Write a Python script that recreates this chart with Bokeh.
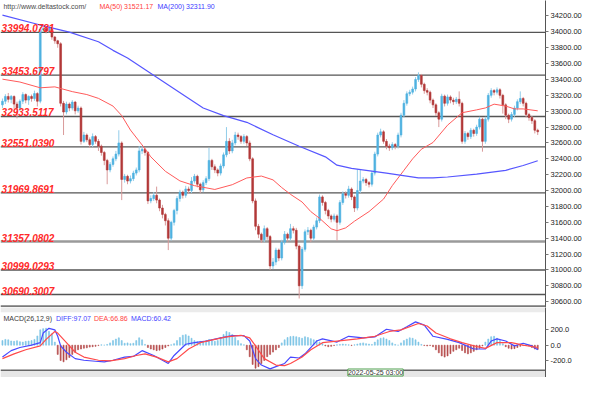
from bokeh.plotting import figure
from bokeh.models import (Range1d, FixedTicker, PrintfTickFormatter, Span, Label,
                          BoxAnnotation, ColumnDataSource)
from bokeh.layouts import column
from bokeh.embed import file_html
from bokeh.resources import INLINE

# ---------------- data ----------------
open_ = [
    33080, 33126, 33186, 33150, 33186, 33090, 33040, 33126, 33210, 33140,
    33186, 33160, 33222, 33126, 34030, 34040, 34010, 34050, 33935, 33887,
    33850, 33100, 32990, 33090, 33040, 33115, 33005, 33040, 32620, 32700,
    32640, 32580, 32680, 32620, 32560, 32480, 32380, 32260, 32330, 32400,
    32460, 32600, 32140, 32180, 32120, 32150, 32220, 32260, 32500, 32520,
    32480, 31870, 31900, 31940, 31880, 31780, 31700, 31620, 31400, 31600,
    31750, 31900, 31980, 31940, 32020, 32000, 32120, 32180, 32080, 32010,
    32100, 32150, 32380, 32300, 32260, 32220, 32310, 32450, 32620, 32500,
    32600, 32700, 32680, 32620, 32680, 32600, 32400, 31870, 31550, 31450,
    31380, 31520, 31420, 31050, 31100, 31250, 31150, 31350, 31450, 31400,
    31520, 31500, 31300, 30800, 31260, 31480, 31500, 31400, 31540, 31620,
    31920, 31850, 31750, 31680, 31640, 31680, 31600, 31850, 31960, 31940,
    32020, 31920, 31780, 32000, 32120, 32140, 32100, 32080, 32220, 32460,
    32700, 32740, 32620, 32560, 32540, 32580, 32560, 32700, 32950, 33100,
    33220, 33240, 33280, 33400, 33450, 33340, 33260, 33240, 33140, 33080,
    32980, 32900, 33190, 33100, 33180, 33140, 33120, 33150, 33100, 32620,
    32720, 32680, 32760, 32720, 32800, 32900, 32620, 32900, 33200, 33260,
    33240, 33270, 33200, 33080, 32950, 32900, 32960, 33040, 33120, 33160,
    33100, 32960, 32920, 32880, 32760,
]
high = [
    33160, 33215, 33230, 33205, 33200, 33120, 33150, 33240, 33225, 33200,
    33210, 33260, 33240, 34060, 34070, 34060, 34090, 34060, 33950, 33900,
    33870, 33130, 33120, 33110, 33140, 33130, 33070, 33060, 32740, 32720,
    32670, 32720, 32700, 32650, 32580, 32500, 32400, 32360, 32430, 32500,
    32760, 32620, 32210, 32200, 32190, 32250, 32290, 32560, 32560, 32540,
    32500, 31940, 31980, 32050, 31900, 31820, 31720, 31650, 31620, 31770,
    31930, 32010, 32000, 32060, 32050, 32170, 32210, 32200, 32100, 32130,
    32180, 32540, 32400, 32330, 32280, 32340, 32480, 32800, 32660, 32640,
    32740, 32730, 32700, 32710, 32700, 32630, 32420, 31900, 31580, 31470,
    31560, 31540, 31440, 31150, 31280, 31270, 31380, 31490, 31470, 31580,
    31550, 31530, 31320, 31290, 31510, 31540, 31520, 31570, 31660, 31950,
    31940, 31870, 31770, 31700, 31710, 31700, 31880, 31990, 31990, 32060,
    32040, 31940, 32270, 32260, 32170, 32160, 32120, 32250, 32490, 32730,
    32780, 32760, 32650, 32590, 32610, 32600, 32730, 32980, 33140, 33250,
    33270, 33310, 33430, 33490, 33470, 33360, 33290, 33260, 33160, 33100,
    33000, 33220, 33210, 33210, 33200, 33170, 33180, 33250, 33120, 32750,
    32740, 32790, 32780, 32830, 32930, 32920, 32930, 33230, 33290, 33280,
    33300, 33290, 33220, 33100, 32970, 32990, 33070, 33150, 33250, 33180,
    33120, 32980, 32940, 32900, 32780,
]
low = [
    33040, 33090, 33110, 33100, 33030, 32910, 33000, 33090, 33100, 33080,
    33120, 33130, 33060, 33100, 34000, 33980, 33990, 33900, 33850, 33800,
    33060, 32700, 32960, 33000, 33010, 32960, 32980, 32580, 32600, 32610,
    32540, 32550, 32590, 32500, 32440, 32320, 32080, 32230, 32300, 32370,
    32430, 31880, 32100, 32080, 32090, 32120, 32190, 32230, 32460, 32440,
    31830, 31840, 31870, 31840, 31740, 31650, 31560, 31250, 31370, 31560,
    31700, 31860, 31900, 31910, 31960, 31970, 32090, 32040, 31970, 31980,
    32070, 32120, 32260, 32220, 32180, 32190, 32280, 32420, 32460, 32470,
    32570, 32640, 32590, 32590, 32560, 32370, 31840, 31500, 31400, 31340,
    31350, 31380, 31000, 31010, 31060, 31110, 31120, 31320, 31360, 31370,
    31460, 31260, 30640, 30760, 31230, 31440, 31350, 31370, 31510, 31590,
    31810, 31700, 31640, 31600, 31610, 31370, 31570, 31820, 31900, 31910,
    31880, 31730, 31750, 31970, 32090, 32060, 32040, 32050, 32190, 32430,
    32670, 32590, 32520, 32500, 32510, 32520, 32530, 32670, 32920, 33070,
    33190, 33210, 33250, 33370, 33300, 33220, 33200, 33100, 33040, 32940,
    32800, 32870, 33060, 33070, 33100, 33080, 33090, 33060, 32590, 32590,
    32640, 32650, 32680, 32690, 32770, 32490, 32590, 32870, 33170, 33200,
    33210, 33160, 32970, 32900, 32850, 32870, 32930, 33010, 33090, 33060,
    32920, 32880, 32840, 32720, 32700,
]
close = [
    33126, 33186, 33150, 33186, 33090, 33040, 33126, 33210, 33140, 33186,
    33160, 33222, 33126, 34030, 34040, 34010, 34050, 33935, 33887, 33850,
    33100, 32990, 33090, 33040, 33115, 33005, 33040, 32620, 32700, 32640,
    32580, 32680, 32620, 32560, 32480, 32380, 32260, 32330, 32400, 32460,
    32600, 32140, 32180, 32120, 32150, 32220, 32260, 32500, 32520, 32480,
    31870, 31900, 31940, 31880, 31780, 31700, 31620, 31400, 31600, 31750,
    31900, 31980, 31940, 32020, 32000, 32120, 32180, 32080, 32010, 32100,
    32150, 32380, 32300, 32260, 32220, 32310, 32450, 32620, 32500, 32600,
    32700, 32680, 32620, 32680, 32600, 32400, 31870, 31550, 31450, 31380,
    31520, 31420, 31050, 31100, 31250, 31150, 31350, 31450, 31400, 31520,
    31500, 31300, 30800, 31260, 31480, 31500, 31400, 31540, 31620, 31920,
    31850, 31750, 31680, 31640, 31680, 31600, 31850, 31960, 31940, 32020,
    31920, 31780, 32000, 32120, 32140, 32100, 32080, 32220, 32460, 32700,
    32740, 32620, 32560, 32540, 32580, 32560, 32700, 32950, 33100, 33220,
    33240, 33280, 33400, 33450, 33340, 33260, 33240, 33140, 33080, 32980,
    32900, 33190, 33100, 33180, 33140, 33120, 33150, 33100, 32620, 32720,
    32680, 32760, 32720, 32800, 32900, 32620, 32900, 33200, 33260, 33240,
    33270, 33200, 33080, 32950, 32900, 32960, 33040, 33120, 33160, 33100,
    32960, 32920, 32880, 32760, 32741.44,
]

ma50_idx = [0, 6, 13, 18, 24, 29, 33, 38, 41, 44, 48, 51, 56, 61, 66, 73, 79, 84,
            89, 93, 96, 99, 103, 106, 109, 113, 115, 118, 121, 126, 131, 134, 138,
            141, 144, 148, 153, 158, 163, 166, 169, 173, 176, 179, 184]
ma50_val = [33404, 33368, 33295, 33307, 33247, 33210, 33162, 33065, 32945, 32763,
            32575, 32425, 32243, 32122, 32062, 32014, 32074, 32159, 32183, 32135,
            32038, 31953, 31856, 31735, 31651, 31518, 31494, 31530, 31614, 31735,
            31893, 32062, 32255, 32400, 32521, 32606, 32824, 32981, 33017, 33041,
            33089, 33065, 33029, 33029, 33005]

ma200_idx = [0, 13, 23, 33, 38, 43, 53, 63, 69, 76, 84, 93, 102, 111, 115, 120,
             132, 143, 148, 153, 163, 173, 179, 184]
ma200_val = [34210, 34086, 33996, 33875, 33767, 33670, 33428, 33186, 33041, 32945,
             32860, 32703, 32558, 32425, 32320, 32280, 32219, 32159, 32159, 32171,
             32207, 32255, 32316, 32376]

levels = [33994.0781, 33453.6797, 32933.5117, 32551.0390,
          31969.8691, 31357.0802, 30999.0293, 30690.3007]
level_labels = ["33994.0781", "33453.6797", "32933.5117", "32551.0390",
                "31969.8691", "31357.0802", "30999.0293", "30690.3007"]

price_ticks = [30600, 30800, 31000, 31200, 31400, 31600, 31800, 32000, 32200,
               32400, 32600, 32800, 33000, 33200, 33400, 33600, 33800, 34000, 34200]
macd_ticks = [-200, 0, 200]

hist = [
    60, 75, 70, 55, 50, 58, 45, 40, 50, 55,
    60, 75, 120, 200, 215, 220, 180, 150, 40, -120,
    -200, -217, -190, -160, -120, -92, -60, -50, -40, -35,
    -25, -20, -15, -5, 5, 0, 10, 30, 60, 80,
    96, 60, 25, 30, 20, 25, 60, 96, 70, 10,
    -30, -50, -60, -71, -65, -50, -30, -10, 5, 20,
    60, 100, 130, 137, 120, 90, 60, 45, 50, 40,
    60, 75, 55, 50, 60, 100, 140, 179, 165, 140,
    100, 60, 20, 5, -60, -150, -250, -300, -280, -240,
    -200, -150, -120, -90, -60, -30, 30, 70, 100, 112,
    116, 110, 100, 90, 110, 100, 85, 70, 60, 40,
    20, -10, -20, -15, -5, 5, 10, 15, 10, 5,
    -5, 5, 15, 25, 30, 20, 15, 10, 40, 70,
    90, 96, 80, 60, 30, 10, 0, 30, 60, 80,
    96, 90, 70, 40, 10, -5, -10, -5, -20, -60,
    -100, -140, -155, -140, -110, -80, -60, -40, -70, -100,
    -113, -100, -80, -60, -40, -10, 40, 80, 110, 116,
    90, 60, 20, -20, -40, -50, -45, -30, -15, -5,
    10, -10, -30, -50, -55,
]

diff_idx = [0, 3, 6, 10, 13, 14, 16, 18, 19, 20, 22, 25, 28, 32, 35, 38, 42, 45, 48,
            52, 55, 57, 59, 63, 66, 70, 75, 79, 83, 85, 87, 89, 92, 94, 97, 99, 102,
            104, 108, 110, 115, 119, 124, 128, 132, 136, 139, 142, 145, 148, 153,
            157, 162, 166, 168, 170, 173, 176, 179, 182, 184]
diff_val = [-155, -71, -30, 0, 33, 158, 220, 200, 116, -9, -92, -175, -196, -209,
            -217, -196, -155, -146, -71, -134, -196, -238, -134, 12, 33, 54, 96, 125,
            125, 54, -175, -259, -309, -280, -238, -155, -167, -113, 54, 83, 41, 116,
            96, 108, 208, 179, 241, 304, 262, 116, 75, 33, -50, -50, 54, 83, 54, -9,
            25, -9, -59]

dea_idx = [0, 4, 8, 13, 15, 18, 19, 22, 25, 28, 33, 37, 42, 46, 49, 53, 57, 60, 64,
           68, 73, 77, 82, 85, 87, 90, 94, 97, 99, 103, 106, 110, 115, 122, 128, 133,
           137, 143, 146, 149, 154, 158, 163, 166, 170, 175, 179, 184]
dea_val = [-175, -113, -59, -9, 75, 179, 158, 33, -92, -155, -196, -205, -175, -134,
           -113, -155, -217, -175, -50, 33, 75, 108, 129, 96, -9, -175, -259, -267,
           -238, -155, -60, 33, 54, 83, 116, 179, 200, 283, 250, 158, 83, 33, -17,
           -42, 33, 33, 0, -30]

# ---------------- layout constants ----------------
W = 584
AXW = 37
FW = W - AXW
H1 = 307
H2 = 70
FONT = "Liberation Sans"
SMALL = "7px"

UP, DOWN = "#4fb2e0", "#b23838"
UP_W, DOWN_W = "#92cdea", "#d99a9a"

n = len(close)
idx = list(range(n))
up = [c >= o for o, c in zip(open_, close)]
src = ColumnDataSource(dict(
    x=idx, o=open_, h=high, l=low, c=close,
    top=[max(o, c) for o, c in zip(open_, close)],
    bot=[min(o, c) for o, c in zip(open_, close)],
    col=[UP if u else DOWN for u in up],
    wcol=[UP_W if u else DOWN_W for u in up],
))

xr = Range1d(-0.67, 186.67)


def style_axis(a, ticks, fmt):
    a.ticker = FixedTicker(ticks=ticks)
    a.formatter = PrintfTickFormatter(format=fmt)
    a.major_label_text_font = FONT
    a.major_label_text_font_size = "7.5px"
    a.major_label_text_color = "#222222"
    a.axis_line_color = "#555555"
    a.major_tick_line_color = "#777777"
    a.major_tick_out = 3
    a.major_tick_in = 0
    a.minor_tick_line_color = None
    a.major_label_standoff = 2


# ---------------- main price panel ----------------
p1 = figure(width=W, height=H1, x_range=xr, y_range=Range1d(30526.5, 34395.3),
            output_backend="svg", toolbar_location=None,
            x_axis_location=None, y_axis_location="right",
            min_border_left=0, min_border_right=AXW, min_border_top=0,
            min_border_bottom=0, outline_line_color=None,
            background_fill_color="white", border_fill_color="white")
p1.grid.visible = False
style_axis(p1.yaxis[0], price_ticks, "%.2f")

for lv in levels:
    thick = abs(lv - 31357.0802) < 1
    p1.add_layout(Span(location=lv, dimension="width",
                       line_color="#9a9a9a" if thick else "#555555",
                       line_width=2.5 if thick else 1.3, level="underlay"))

p1.segment(x0="x", y0="h", x1="x", y1="l", source=src, line_color="wcol", line_width=1)
p1.vbar(x="x", width=0.62, top="top", bottom="bot", source=src,
        fill_color="col", line_color="col", line_width=0.6)

p1.line(ma50_idx, ma50_val, line_color="#ff5a5a", line_width=1)
p1.line(ma200_idx, ma200_val, line_color="#5656ff", line_width=1.2)

p1.add_layout(Span(location=30541, dimension="width", line_color="#7a7a7a", line_width=2))

for lv, txt in zip(levels, level_labels):
    p1.add_layout(Label(x=-0.3, y=lv, text=txt, text_font=FONT,
                        text_font_style="bold italic", text_font_size="10px",
                        text_color="#ff2a2a", text_baseline="bottom"))

ty = H1 - 6 * 0.959
for tx, txt, colr in [(2.9, "http://www.deltastock.com/", "#4a4a4a"),
                      (99.0, "MA(50)", "#ff4040"),
                      (123.5, "31521.17", "#ff4040"),
                      (157.0, "MA(200)", "#4040ff"),
                      (185.5, "32311.90", "#4040ff")]:
    p1.add_layout(Label(x=tx, y=ty, x_units="screen", y_units="screen", text=txt,
                        text_font=FONT, text_font_size=SMALL, text_color=colr,
                        text_baseline="middle"))

p1.add_layout(Label(x=FW + 1, y=H1 - 4.5 * 0.959, x_units="screen", y_units="screen",
                    text="34377.60", text_font=FONT, text_font_size="7.5px",
                    text_color="#333333", text_baseline="middle",
                    background_fill_color="white", border_line_color="#4f9f4f"))
p1.add_layout(Label(x=FW + 1, y=close[-1], x_units="screen", y_units="data",
                    text=f"{close[-1]:.2f}", text_font=FONT, text_font_size="7.5px",
                    text_color="#222222", text_baseline="middle",
                    background_fill_color="#e57070", border_line_color="#c04848"))

# ---------------- MACD panel ----------------
p2 = figure(width=W, height=H2, x_range=xr, y_range=Range1d(-421, 491),
            output_backend="svg", toolbar_location=None,
            x_axis_location=None, y_axis_location="right",
            min_border_left=0, min_border_right=AXW, min_border_top=0,
            min_border_bottom=0, outline_line_color=None,
            background_fill_color="white", border_fill_color="white")
p2.grid.visible = False
style_axis(p2.yaxis[0], macd_ticks, "%.1f")

p2.add_layout(BoxAnnotation(bottom=430, top=500, fill_color="#ebebeb", fill_alpha=1,
                            line_color=None, level="underlay"))
p2.add_layout(BoxAnnotation(bottom=-430, top=-327, fill_color="#e6e6e6", fill_alpha=1,
                            line_color=None, level="underlay"))
p2.add_layout(Span(location=-327, dimension="width", line_color="#666666", line_width=1.5))

hsrc = ColumnDataSource(dict(x=idx, top=hist,
                             col=["#7cc5e6" if v >= 0 else "#b54a4a" for v in hist]))
p2.vbar(x="x", width=0.35, top="top", bottom=0, source=hsrc,
        fill_color="col", line_color="col", line_width=0.6)
p2.line(diff_idx, diff_val, line_color="#4848ff", line_width=1.2)
p2.line(dea_idx, dea_val, line_color="#ff4a4a", line_width=1.2)

ly = H2 - 11 * 0.959
for tx, txt, colr in [(2.9, "MACD(26,12,9)", "#3a3a3a"),
                      (55.5, "DIFF:97.07", "#4444ff"),
                      (93.4, "DEA:66.86", "#ff4444"),
                      (130.4, "MACD:60.42", "#4444ff")]:
    p2.add_layout(Label(x=tx, y=ly, x_units="screen", y_units="screen", text=txt,
                        text_font=FONT, text_font_size=SMALL, text_color=colr,
                        text_baseline="middle"))

p2.add_layout(Label(x=347.4, y=5.0, x_units="screen", y_units="screen",
                    text="2022-05-25 03:00", text_font=FONT, text_font_size="7px",
                    text_color="#333333", text_baseline="middle",
                    background_fill_color="white", border_line_color="#4f9f4f"))

layout = column(p1, p2, spacing=0)
open("out.html", "w").write(file_html(layout, INLINE))
